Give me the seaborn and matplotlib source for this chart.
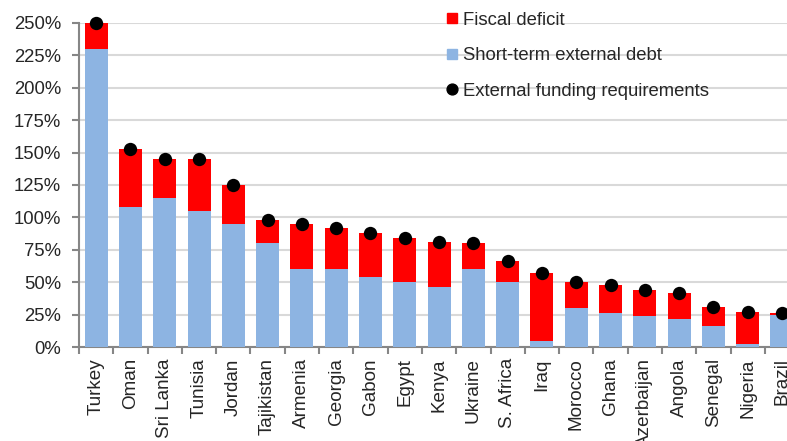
import matplotlib
matplotlib.use("Agg")
import matplotlib.pyplot as plt
from matplotlib.lines import Line2D
from matplotlib.ticker import FixedLocator, PercentFormatter
import seaborn as sns
import pandas as pd

countries = ["Turkey", "Oman", "Sri Lanka", "Tunisia", "Jordan", "Tajikistan",
             "Armenia", "Georgia", "Gabon", "Egypt", "Kenya", "Ukraine",
             "S. Africa", "Iraq", "Morocco", "Ghana", "Azerbaijan", "Angola",
             "Senegal", "Nigeria", "Brazil"]
short_term_debt = [230, 108, 115, 105, 95, 80, 60, 60, 54, 50, 46, 60,
                   50, 5, 30, 26, 24, 22, 16, 2, 25]
fiscal_deficit = [20, 45, 30, 40, 30, 18, 35, 32, 34, 34, 35, 20,
                  16, 52, 20, 22, 20, 20, 15, 25, 1]

df = pd.DataFrame({"country": countries,
                   "short_term": short_term_debt,
                   "fiscal": fiscal_deficit})
df["total"] = df["short_term"] + df["fiscal"]

sns.set_theme(style="white")
plt.rcParams["font.family"] = ["Liberation Sans", "DejaVu Sans"]

BLUE = "#8DB4E2"
RED = "#FF0000"
GRID = "#D9D9D9"
SPINE = "#868686"

fig = plt.figure(figsize=(7.87, 4.41), dpi=100)
ax = fig.add_axes([0.1004, 0.213, 0.915, 0.735])

# total height in red, short-term debt painted over it in blue
sns.barplot(data=df, x="country", y="total", color=RED, width=0.67,
            saturation=1, linewidth=0, ax=ax, zorder=2)
sns.barplot(data=df, x="country", y="short_term", color=BLUE, width=0.67,
            saturation=1, linewidth=0, ax=ax, zorder=3)
sns.stripplot(data=df, x="country", y="total", color="black", jitter=False,
              size=9.6, linewidth=0, ax=ax, zorder=4, clip_on=False)

ax.set_xlim(-0.5, len(countries) - 0.5)
ax.set_ylim(0, 250)
ax.set_yticks(range(0, 251, 25))
ax.yaxis.set_major_formatter(PercentFormatter(decimals=0))
ax.set_xlabel("")
ax.set_ylabel("")

ax.grid(axis="y", color=GRID, linewidth=1.5, zorder=0)
ax.set_axisbelow(True)

for side in ("top", "right"):
    ax.spines[side].set_visible(False)
for side in ("left", "bottom"):
    ax.spines[side].set_color(SPINE)
    ax.spines[side].set_linewidth(1.5)

ax.tick_params(axis="y", which="major", length=5, width=1.5, color=SPINE,
               labelsize=13.3, pad=8, left=True)
ax.tick_params(axis="x", which="major", length=0, labelsize=13.6,
               labelrotation=90, pad=8)
ax.xaxis.set_minor_locator(FixedLocator([i + 0.5 for i in range(-1, len(countries))]))
ax.tick_params(axis="x", which="minor", length=5, width=1.5, color=SPINE,
               bottom=True)
for lbl in ax.get_xticklabels():
    lbl.set_va("top")
    lbl.set_ha("center")

handles = [
    Line2D([], [], marker="s", linestyle="none", color=RED, markersize=7.5),
    Line2D([], [], marker="s", linestyle="none", color=BLUE, markersize=7.5),
    Line2D([], [], marker="o", linestyle="none", color="black", markersize=7.8),
]
labels = ["Fiscal deficit", "Short-term external debt", "External funding requirements"]
fig.legend(handles, labels, loc="upper left", bbox_to_anchor=(0.551, 1.003),
           frameon=False, fontsize=13.3, handlelength=0.6, handletextpad=0.3,
           labelspacing=1.0, borderpad=0.2)

fig.savefig("out.png", dpi=100)
